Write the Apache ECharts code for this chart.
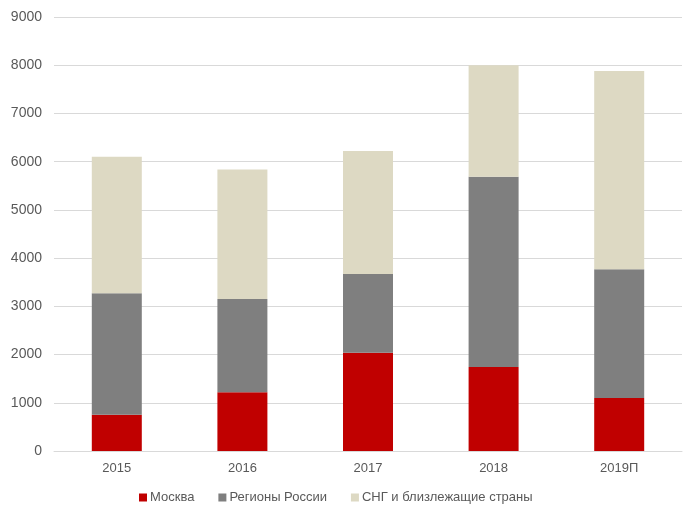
<!DOCTYPE html>
<html><head><meta charset="utf-8">
<script src="https://cdn.jsdelivr.net/npm/echarts@6/dist/echarts.min.js"></script>
<style>html,body{margin:0;padding:0;background:#fff}#c{width:700px;height:521px}</style>
</head><body><div id="c"></div>
<script>
const categories = ['2015','2016','2017','2018','2019П'];
const moscow = [750, 1220, 2040, 1740, 1100];
const regions = [2520, 1930, 1630, 3945, 2670];
const cis = [2830, 2690, 2550, 2315, 4110];
const yTicks = {min: 0, max: 9000, interval: 1000};

const chart = echarts.init(document.getElementById('c'));
const font = 'Liberation Sans, Arial, sans-serif';
chart.setOption({
  animation: false,
  grid: {left: 54, right: 18, top: 17, bottom: 70},
  legend: {
    bottom: 12, left: 134,
    itemWidth: 8, itemHeight: 8, itemGap: 24,
    icon: 'rect',
    textStyle: {color: '#595959', fontSize: 13, fontFamily: font, padding: [0,0,0,-2]},
    data: ['Москва','Регионы России','СНГ и близлежащие страны']
  },
  xAxis: {
    type: 'category', data: categories,
    axisLine: {lineStyle: {color: '#d9d9d9'}},
    axisTick: {show: false},
    axisLabel: {color: '#595959', fontSize: 13, fontFamily: font, margin: 11}
  },
  yAxis: {
    type: 'value', min: yTicks.min, max: yTicks.max, interval: yTicks.interval,
    axisLine: {show: false}, axisTick: {show: false},
    splitLine: {lineStyle: {color: '#d9d9d9'}},
    axisLabel: {color: '#595959', fontSize: 14, fontFamily: font, margin: 12,
      formatter: v => String(v)}
  },
  series: [
    {name: 'Москва', type: 'bar', stack: 's', data: moscow, barWidth: 50, itemStyle: {color: '#C00000'}},
    {name: 'Регионы России', type: 'bar', stack: 's', data: regions, itemStyle: {color: '#7F7F7F'}},
    {name: 'СНГ и близлежащие страны', type: 'bar', stack: 's', data: cis, itemStyle: {color: '#DDD9C3'}}
  ]
});
</script></body></html>
